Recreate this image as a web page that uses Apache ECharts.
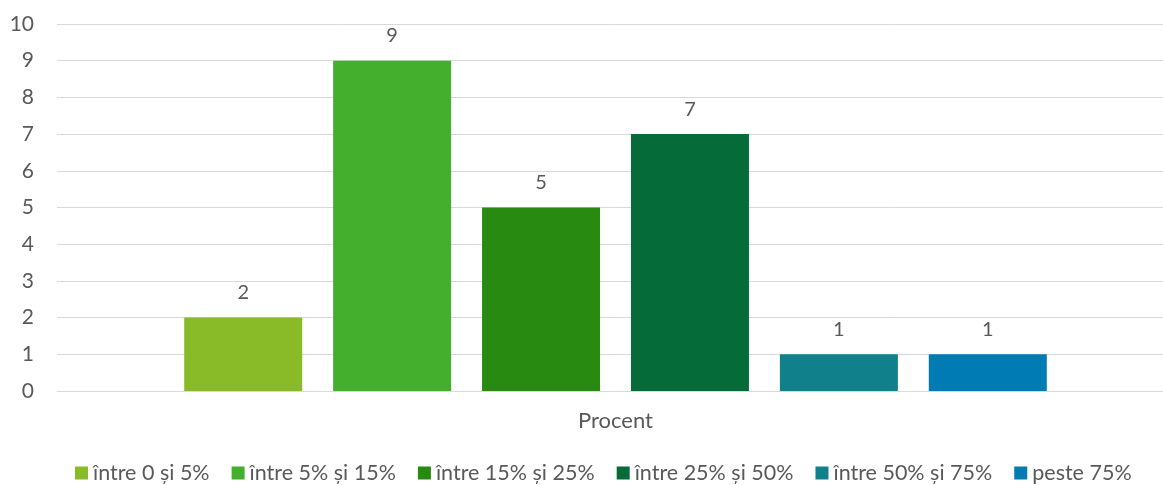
<!DOCTYPE html>
<html><head><meta charset="utf-8">
<script src="https://cdn.jsdelivr.net/npm/echarts@6/dist/echarts.min.js"></script>
<style>html,body{margin:0;padding:0;background:#fff;overflow:hidden}#c{width:1174px;height:485px}</style>
</head><body><div id="c"></div>
<script>
const categories = ['Procent'];
const seriesNames = ['între 0 și 5%', 'între 5% și 15%', 'între 15% și 25%', 'între 25% și 50%', 'între 50% și 75%', 'peste 75%'];
const seriesValues = [[2], [9], [5], [7], [1], [1]];
const colors = ['#89BA28', '#43AF2C', '#288A10', '#056B39', '#10818B', '#007BB3'];
const yTicks = {min: 0, max: 10, interval: 1};

const font = 'Lato, "Open Sans", sans-serif';
const chart = echarts.init(document.getElementById('c'), null, {renderer: 'canvas'});
chart.setOption({
  animation: false,
  textStyle: {fontFamily: font},
  grid: {left: 57, right: 0, top: 24, bottom: 94},
  legend: {
    left: 75, top: 462, padding: 0, icon: 'rect', itemWidth: 13, itemHeight: 13, itemGap: 22,
    textStyle: {color: '#595959', fontSize: 21.5, fontFamily: font},
    data: seriesNames
  },
  xAxis: {
    type: 'category', data: categories,
    axisLine: {show: true, lineStyle: {color: '#D9D9D9', width: 1}},
    axisTick: {show: false},
    axisLabel: {color: '#595959', fontSize: 22, margin: 19, fontFamily: font}
  },
  yAxis: {
    type: 'value', min: yTicks.min, max: yTicks.max, interval: yTicks.interval,
    axisLine: {show: false}, axisTick: {show: false},
    splitLine: {lineStyle: {color: '#D9D9D9', width: 1}},
    axisLabel: {color: '#595959', fontSize: 21, margin: 23, fontFamily: font}
  },
  series: seriesNames.map((n, i) => ({
    name: n, type: 'bar', data: seriesValues[i],
    barWidth: 118, barGap: '26.2%',
    itemStyle: {color: colors[i]},
    label: {show: true, position: 'top', distance: 15, color: '#595959', fontSize: 20, fontFamily: font}
  }))
});
</script></body></html>
